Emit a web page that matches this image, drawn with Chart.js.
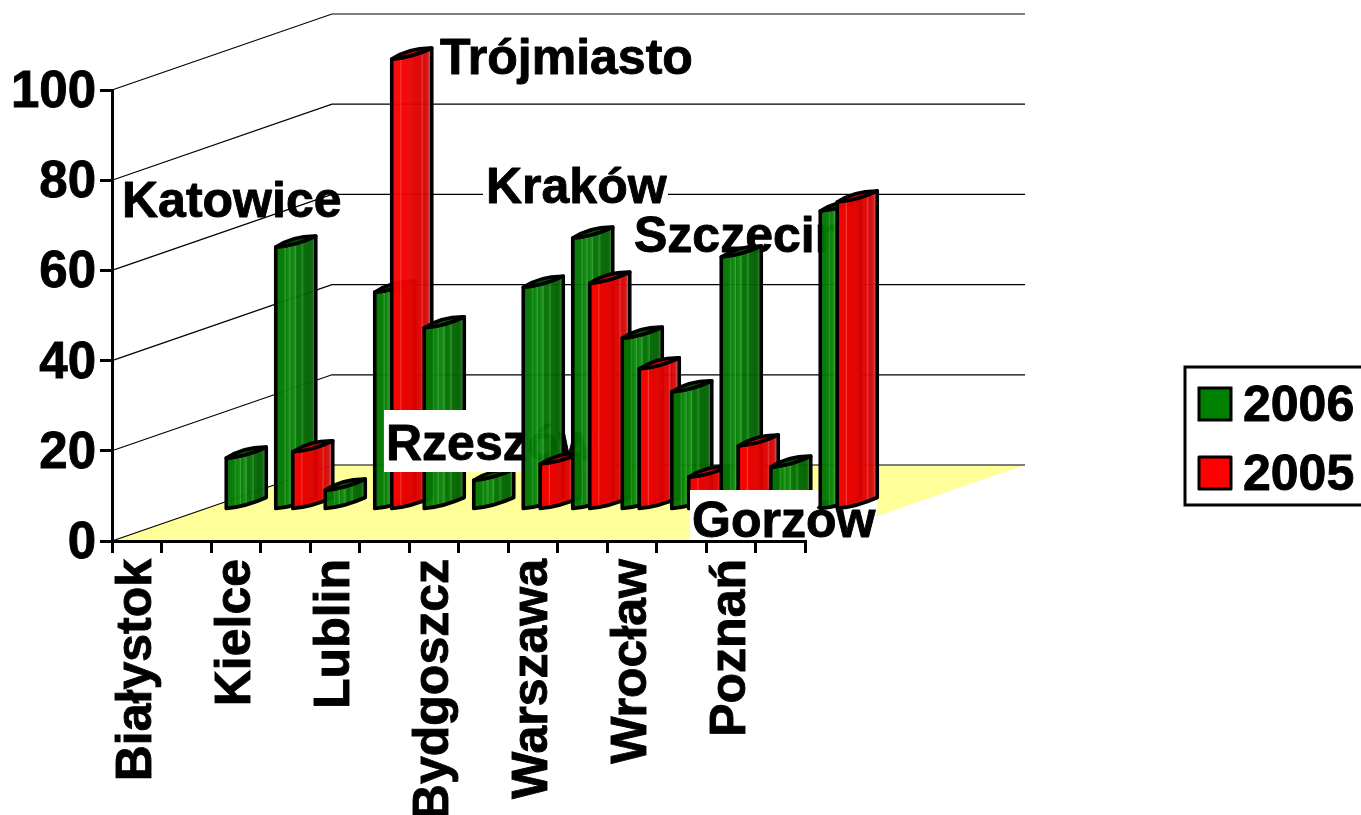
<!DOCTYPE html>
<html><head><meta charset="utf-8">
<style>html,body{margin:0;padding:0;background:#fff}#w{width:1361px;height:815px;position:relative;overflow:hidden}</style>
<script src="https://cdn.jsdelivr.net/npm/chart.js@4"></script>
</head><body><div id="w"><canvas id="c" width="1361" height="815"></canvas></div>
<script>
const categories = ["Białystok","Katowice","Kielce","Trójmiasto","Lublin","Rzeszów","Bydgoszcz","Kraków","Warszawa","Szczecin","Wrocław","Gorzów","Poznań",""];
const values2006 = [11.5,58.3,4.4,48.3,40.4,6.6,49.4,60.3,38.1,26.2,56.1,9.5,66.3,null];
const values2005 = [null,12.9,null,100,null,null,10.2,50.3,31.3,7.3,14.2,null,68.3,null];
const seriesNames = ["2006","2005"];
const seriesColors = ["#008000","#ff0000"];
const yTicks = [0,20,40,60,80,100];

const FONT = 'bold 50px "Liberation Sans", Arial, sans-serif';
const WALL = {dx:220, dy:-76, right:1025};
const BAR = {dx:98, dy:-31, w:40, rise:11};
const STRIPES = [
 [[0,'#006800'],[.06,'#007400'],[.2,'#007a00'],[.24,'#2a962a'],[.26,'#007a00'],[.33,'#108a10'],[.36,'#3a9f3a'],[.38,'#007c00'],[.46,'#108a10'],[.5,'#349a34'],[.52,'#007400'],[.6,'#006c00'],[.68,'#1f8a1f'],[.7,'#006800'],[.86,'#006000'],[.92,'#0a6a0a'],[.96,'#4a8a4a'],[1,'#3a7a3a']],
 [[0,'#ee0000'],[.08,'#ff0000'],[.2,'#fa0000'],[.23,'#ff3a3a'],[.25,'#f40000'],[.4,'#f00000'],[.44,'#e00a0a'],[.5,'#ea0000'],[.62,'#dc0000'],[.72,'#de0000'],[.76,'#e82a2a'],[.8,'#d60000'],[.9,'#d41010'],[.95,'#d85050'],[1,'#c04040']]
];
const LID = ['#005c00','#e80000'];
// annotation placement for the in-plot category names: category index -> text position and optional white box
const NOTES = {
 1:{x:122,y:217},
 3:{x:440,y:74},
 5:{x:386,y:460,box:[384,410,206,62]},
 7:{x:486,y:203,box:[483,165,185,45]},
 9:{x:634,y:252},
 11:{x:692,y:537,box:[690,490,187,50]}
};

const scene = {
 id:'scene',
 beforeDraw(chart){
  const {ctx,scales:{x,y}} = chart;
  ctx.save();
  ctx.fillStyle='#fff'; ctx.fillRect(0,0,chart.width,chart.height);
  const y0=y.getPixelForValue(0), l=x.left, r=x.right;
  ctx.fillStyle='#FFFF99';
  ctx.beginPath(); ctx.moveTo(l,y0); ctx.lineTo(l+WALL.dx,y0+WALL.dy); ctx.lineTo(WALL.right,y0+WALL.dy); ctx.lineTo(r,y0); ctx.closePath(); ctx.fill();
  ctx.strokeStyle='#000'; ctx.lineWidth=1.2;
  yTicks.forEach(v=>{
   const p=y.getPixelForValue(v);
   ctx.beginPath(); ctx.moveTo(l,p); ctx.lineTo(l+WALL.dx,p+WALL.dy); ctx.lineTo(WALL.right,p+WALL.dy); ctx.stroke();
  });
  ctx.restore();
 },
 beforeDatasetsDraw(chart){
  const {ctx} = chart;
  const metas=[chart.getDatasetMeta(0),chart.getDatasetMeta(1)];
  categories.forEach((name,i)=>{
   metas.forEach((m,s)=>{
    const el=m.data[i];
    if(!el||chart.data.datasets[s].data[i]==null) return;
    drawBar(ctx,el.x+BAR.dx,el.y+BAR.dy,el.base+BAR.dy,s);
   });
   const n=NOTES[i];
   if(n){
    ctx.save();
    if(n.box){ctx.fillStyle='#fff';ctx.fillRect(n.box[0],n.box[1],n.box[2],n.box[3]);}
    ctx.fillStyle='#000';ctx.strokeStyle='#000';ctx.lineWidth=.9;ctx.lineJoin='round';ctx.font=FONT;ctx.textAlign='left';ctx.textBaseline='alphabetic';
    ctx.strokeText(name,n.x,n.y);
    ctx.fillText(name,n.x,n.y);
    ctx.restore();
   }
  });
  return false;
 },
 afterDraw(chart){
  const {ctx}=chart;
  ctx.save();
  ctx.strokeStyle='#000';ctx.lineWidth=3;ctx.fillStyle='#fff';
  ctx.beginPath();ctx.rect(1185,367,190,138);ctx.fill();ctx.stroke();
  const rows=[404,473];
  chart.data.datasets.forEach((d,i)=>{
   ctx.fillStyle=d.backgroundColor;ctx.lineWidth=3;
   ctx.fillRect(1199,rows[i]-16,32,32);ctx.strokeRect(1199,rows[i]-16,32,32);
   ctx.fillStyle='#000';ctx.strokeStyle='#000';ctx.lineWidth=.9;ctx.lineJoin='round';ctx.font=FONT;ctx.textAlign='left';ctx.textBaseline='alphabetic';
   ctx.strokeText(d.label,1243,rows[i]+17);
   ctx.fillText(d.label,1243,rows[i]+17);
  });
  ctx.restore();
 }
};

function drawBar(ctx,l,top,base,s){
 const w=BAR.w,rise=BAR.rise,r=l+w,mx=l+w*.5;
 const g=ctx.createLinearGradient(l,0,r,0);
 STRIPES[s].forEach(p=>g.addColorStop(p[0],p[1]));
 const lensMid=top-rise/2;
 ctx.save();
 ctx.lineJoin='round';ctx.lineWidth=3.6;ctx.strokeStyle='#000';
 ctx.globalAlpha=.96;
 ctx.beginPath();
 ctx.moveTo(l,top);
 ctx.quadraticCurveTo(mx,lensMid+4,r,top-rise);
 ctx.lineTo(r,base-rise);
 ctx.quadraticCurveTo(mx,base-rise/2+3.5,l,base);
 ctx.closePath();
 ctx.fillStyle=g;ctx.fill();
 ctx.globalAlpha=1;ctx.stroke();
 // top opening
 ctx.beginPath();
 ctx.moveTo(l,top);
 ctx.quadraticCurveTo(mx-2,lensMid-6,r,top-rise);
 ctx.quadraticCurveTo(mx,lensMid+4,l,top);
 ctx.closePath();
 ctx.fillStyle=LID[s];ctx.fill();ctx.stroke();
 ctx.restore();
}

const tickFont = {family:'"Liberation Sans", Arial, sans-serif',weight:'bold',size:50};
new Chart(document.getElementById('c'),{
 type:'bar',
 data:{labels:categories,datasets:[
  {label:seriesNames[0],data:values2006,backgroundColor:seriesColors[0],categoryPercentage:34/49.5,barPercentage:1},
  {label:seriesNames[1],data:values2005,backgroundColor:seriesColors[1],categoryPercentage:34/49.5,barPercentage:1}
 ]},
 plugins:[scene],
 options:{
  responsive:false,animation:false,
  layout:{padding:{top:90,right:556,left:0,bottom:0}},
  plugins:{legend:{display:false},tooltip:{enabled:false}},
  scales:{
   x:{
    afterFit(s){s.height=274;},
    grid:{display:true,drawOnChartArea:false,drawTicks:true,tickLength:12,color:'#000',lineWidth:3},
    border:{display:true,color:'#000',width:3},
    ticks:{autoSkip:false,minRotation:90,maxRotation:90,padding:6,color:'#000',font:tickFont,textStrokeColor:'#000',textStrokeWidth:.9,
     callback(v,i){return i%2===0?categories[i]:'';}}
   },
   y:{
    min:0,max:100,
    afterFit(s){s.width=112;},
    grid:{display:true,drawOnChartArea:false,drawTicks:true,tickLength:12,color:'#000',lineWidth:3},
    border:{display:true,color:'#000',width:3},
    ticks:{stepSize:20,padding:4,labelOffset:3,color:'#000',font:{family:tickFont.family,weight:'bold',size:51},textStrokeColor:'#000',textStrokeWidth:.9}
   }
  }
 }
});
</script></body></html>
